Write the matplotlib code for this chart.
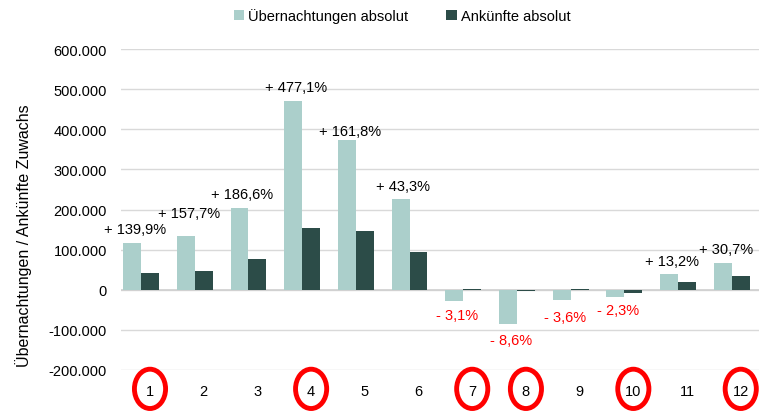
import numpy as np
import matplotlib
matplotlib.use("Agg")
import matplotlib.pyplot as plt
from matplotlib.patches import Ellipse
from matplotlib.ticker import FuncFormatter

plt.rcParams['font.family'] = ['Liberation Sans', 'DejaVu Sans']

monate = [1, 2, 3, 4, 5, 6, 7, 8, 9, 10, 11, 12]
uebernachtungen = [117000, 134000, 204000, 470000, 373000, 226000,
                   -27000, -85000, -25000, -17000, 40000, 67000]
ankuenfte = [42000, 47000, 77000, 154000, 147000, 95000,
             2000, -3000, 2000, -7000, 20000, 35000]
prozent = ["+ 139,9%", "+ 157,7%", "+ 186,6%", "+ 477,1%", "+ 161,8%", "+ 43,3%",
           "- 3,1%", "- 8,6%", "- 3,6%", "- 2,3%", "+ 13,2%", "+ 30,7%"]
markiert = [1, 4, 7, 8, 10, 12]

hell = '#abcfcb'
dunkel = '#2c4c48'

fig = plt.figure(figsize=(7.59, 4.14), dpi=100)
ax = fig.add_axes([121 / 759, 1 - 371 / 414, 1 - 121 / 759, (371 - 50) / 414])

x = np.array(monate)
b = 1 / 3
ax.bar(x - b, uebernachtungen, width=b, color=hell, label='Übernachtungen absolut', zorder=3)
ax.bar(x, ankuenfte, width=b, color=dunkel, label='Ankünfte absolut', zorder=3)

# Abstand der Beschriftung zum Balken (manuell verschoben wie im Original)
abstand = [35000, 58000, 35000, 35000, 23000, 33000,
           -35000, -40000, -42000, -33000, 32000, 35000]
for xi, v, t, d in zip(x, uebernachtungen, prozent, abstand):
    neg = t.startswith('-')
    ax.text(xi - 0.28, v + d, t, ha='center', va='center', fontsize=10.5,
            color='#ff0000' if neg else 'black')

ax.set_xlim(0.46, 12.34)
ax.set_ylim(-200000, 600000)
ax.set_yticks(np.arange(-200000, 600001, 100000))
ax.yaxis.set_major_formatter(FuncFormatter(lambda v, p: f"{int(v):,}".replace(',', '.')))
ax.set_xticks(x)
ax.set_xticklabels([str(m) for m in monate])
ax.tick_params(axis='both', length=0, labelsize=10.5)
ax.tick_params(axis='x', pad=10)
ax.tick_params(axis='y', pad=10)
for s in ax.spines.values():
    s.set_visible(False)
ax.grid(axis='y', color='#d9d9d9', linewidth=1, zorder=0)
ax.axhline(0, color='#d0d0d0', linewidth=1.2, zorder=2)

for m in markiert:
    ax.add_patch(Ellipse((m, -247000), 0.58, 98000, fill=False, edgecolor='#ff0000',
                         linewidth=3.5, clip_on=False, zorder=5))

ax.set_ylabel('Übernachtungen / Ankünfte Zuwachs', fontsize=11.5)
ax.yaxis.set_label_coords(-0.14, 0.42)

fig.legend(loc='upper center', bbox_to_anchor=(0.53, 1.01), ncol=2, frameon=False,
           fontsize=10.5, handlelength=0.7, handleheight=0.7, handletextpad=0.3,
           columnspacing=2.6)

fig.savefig('out.png', dpi=100)
